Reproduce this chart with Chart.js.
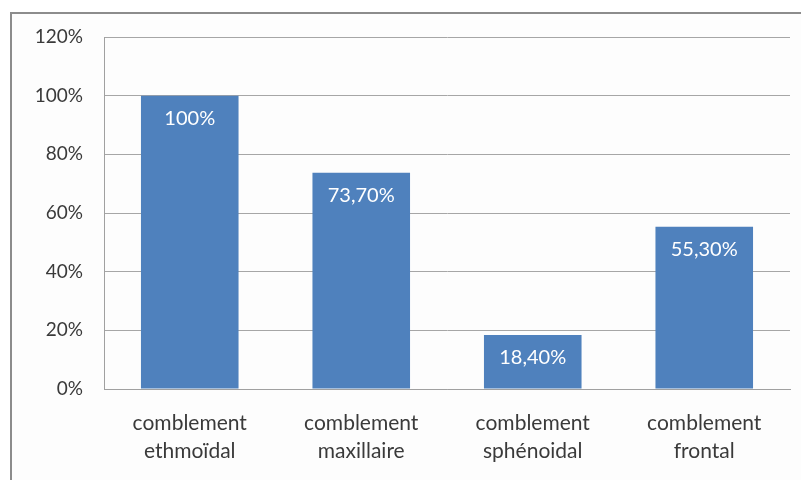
<!DOCTYPE html>
<html>
<head>
<meta charset="utf-8">
<script src="https://cdn.jsdelivr.net/npm/chart.js@4/dist/chart.umd.min.js"></script>
<style>
html,body{margin:0;padding:0;background:#fff;overflow:hidden;}
#wrap{position:relative;width:801px;height:480px;}
#frame{position:absolute;left:10px;top:12px;width:900px;height:600px;border:2px solid #8c8c8c;box-sizing:border-box;background:#fdfdfd;}
canvas{position:absolute;left:0;top:0;}
</style>
</head>
<body>
<div id="wrap">
<div id="frame"></div>
<canvas id="c" width="801" height="480"></canvas>
</div>
<script>
const categories = [["comblement","ethmoïdal"],["comblement","maxillaire"],["comblement","sphénoidal"],["comblement","frontal"]];
const values = [100, 73.7, 18.4, 55.3];
const valueLabels = ["100%", "73,70%", "18,40%", "55,30%"];
const yTicks = [0, 20, 40, 60, 80, 100, 120];

const FONT = "Lato, Carlito, 'DejaVu Sans', sans-serif";

const barLabels = {
  id: 'barLabels',
  afterDatasetsDraw(chart) {
    const ctx = chart.ctx;
    const meta = chart.getDatasetMeta(0);
    ctx.save();
    ctx.fillStyle = '#ffffff';
    ctx.font = '20px ' + FONT;
    ctx.textAlign = 'center';
    ctx.textBaseline = 'middle';
    meta.data.forEach((bar, i) => {
      ctx.fillText(valueLabels[i], bar.x, bar.y + 23);
    });
    ctx.restore();
  }
};

new Chart(document.getElementById('c'), {
  type: 'bar',
  data: {
    labels: categories,
    datasets: [{
      data: values,
      backgroundColor: '#4f81bd',
      borderWidth: 0,
      categoryPercentage: 1.0,
      barPercentage: 0.569
    }]
  },
  options: {
    responsive: false,
    animation: false,
    devicePixelRatio: 1,
    layout: { padding: { left: 0, top: 37, right: 11, bottom: 0 } },
    plugins: { legend: { display: false }, tooltip: { enabled: false } },
    scales: {
      x: {
        grid: { display: false, drawTicks: false },
        border: { display: true, color: '#a0a0a0', width: 1 },
        ticks: { color: '#3a3a3a', font: { family: FONT, size: 21, lineHeight: 1.3 }, padding: 21, maxRotation: 0, autoSkip: false },
        afterFit: s => { s.height = 91; }
      },
      y: {
        min: 0, max: 120,
        afterBuildTicks: s => { s.ticks = yTicks.map(v => ({ value: v })); },
        grid: { color: '#a6a6a6', lineWidth: 1, drawTicks: false },
        border: { display: true, color: '#a0a0a0', width: 1 },
        ticks: { color: '#3a3a3a', font: { family: FONT, size: 19 }, padding: 21, callback: v => v + '%' },
        afterFit: s => { s.width = 104; }
      }
    }
  },
  plugins: [barLabels]
});
</script>
</body>
</html>
